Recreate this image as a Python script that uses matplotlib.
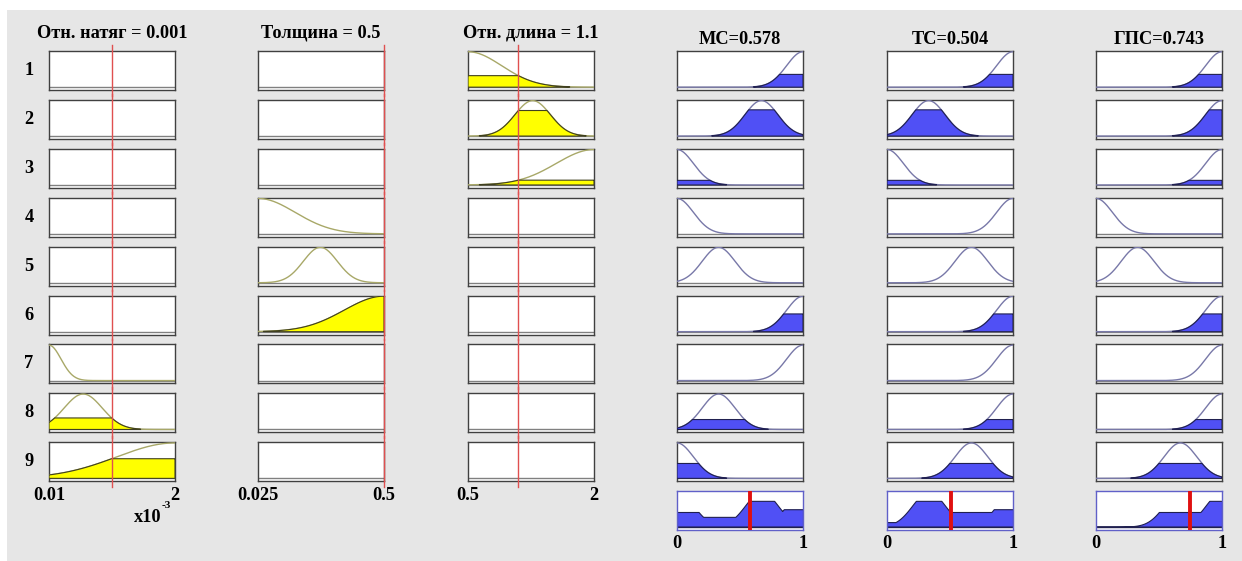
import numpy as np
import matplotlib
matplotlib.use('Agg')
from matplotlib import pyplot as plt
from matplotlib.patches import Rectangle

# input variables
in_titles = ['Отн. натяг = 0.001', 'Толщина = 0.5', 'Отн. длина = 1.1']
in_ranges = [(0.01, 2.0), (0.025, 0.5), (0.5, 2.0)]
in_values = [1.0, 0.5, 1.1]          # first one in x10^-3
in_ticks = [('0.01', '2'), ('0.025', '0.5'), ('0.5', '2')]

# gaussian MFs (center, sigma) used by each of the 9 rules, None = not used
in1_mf = [None, None, None, None, None, None, (0.01, 0.19), (0.55, 0.30), (2.0, 0.92)]
in2_mf = [None, None, None, (0.025, 0.14), (0.26, 0.064), (0.5, 0.15), None, None, None]
in3_mf = [(0.5, 0.40), (1.27, 0.21), (2.0, 0.45), None, None, None, None, None, None]
in_mfs = [in1_mf, in2_mf, in3_mf]

# output variables
out_titles = ['МС=0.578', 'ТС=0.504', 'ГПС=0.743']
out_values = [0.578, 0.504, 0.743]
out_centers = [0.0, 0.33, 0.67, 1.0]
out_sigma = 0.13
out_mf_idx = [[3, 2, 0, 0, 1, 3, 3, 1, 0],
              [3, 1, 0, 3, 2, 3, 3, 3, 2],
              [3, 3, 3, 0, 1, 3, 3, 3, 2]]
rule_strength = [0.36, 0.74, 0.13, 0.0, 0.0, 0.5, 0.0, 0.28, 0.42]

nrules = 9
W, H = 1242, 561
col_left = [49, 258, 468, 677, 887, 1096]
box_w, box_h = 126, 39
row_top0, row_step = 51, 48.9

font = dict(family='Liberation Serif', weight='bold', size=13.2)

def gauss(x, c, s):
    return np.exp(-(x - c)**2 / (2*s**2))

fig = plt.figure(figsize=(W/100, H/100), dpi=100)
fig.patch.set_facecolor('white')
fig.patches.append(Rectangle((7/W, 0), 1-7/W, 1-10/H, transform=fig.transFigure,
                             facecolor='#e6e6e6', edgecolor='none', zorder=-10))

def make_ax(x, y, spine='#404040'):
    ax = fig.add_axes([x/W, 1-(y+box_h)/H, box_w/W, box_h/H])
    ax.set_xticks([]); ax.set_yticks([])
    for sp in ax.spines.values():
        sp.set_color(spine)
        sp.set_linewidth(1.0)
    ax.set_ylim(-0.08, 1.02)
    return ax

def fig_text(x, y, s, **kw):
    fig.text(x/W, 1-y/H, s, ha='center', va='center', **font, **kw)

# rule numbers
for r in range(nrules):
    fig_text(29, row_top0 + r*row_step + box_h/2, str(r+1))

### INPUT COLUMNS ###
for k in range(3):
    lo, hi = in_ranges[k]
    xx = np.linspace(lo, hi, 400)
    for r in range(nrules):
        ax = make_ax(col_left[k], row_top0 + r*row_step)
        ax.set_xlim(lo, hi)
        ax.axhline(0, color='#808080', lw=1)
        mf = in_mfs[k][r]
        if mf is not None:
            yy = gauss(xx, *mf)
            ax.plot(xx, yy, color='#a8a868', lw=1, zorder=3)
            deg = gauss(in_values[k], *mf)
            if deg > 0.01:
                m = yy > 0.01
                yf = np.minimum(yy, deg)[m]
                px = np.concatenate([[xx[m][0]], xx[m], [xx[m][-1]]])
                py = np.concatenate([[0], yf, [0]])
                ax.fill(px, py, facecolor='#ffff00', edgecolor='#404020', lw=0.8, zorder=4)
        ax.axvline(in_values[k], ymin=-0.15, ymax=1.15, color='#e05050', lw=1,
                   clip_on=False, zorder=5)
    ty = 496
    fig_text(col_left[k], ty, in_ticks[k][0])
    fig_text(col_left[k] + box_w, ty, in_ticks[k][1])
    fig_text(112 + (col_left[k]-49), 33, in_titles[k])

fig_text(148, 517, 'x10')
fig.text(166/W, 1-506/H, '-3', ha='center', va='center', family='Liberation Serif',
         weight='bold', size=8)

### OUTPUT COLUMNS ###
xo = np.linspace(0, 1, 400)
for k in range(3):
    cl = col_left[3+k]
    agg = np.zeros_like(xo)
    for r in range(nrules):
        ax = make_ax(cl, row_top0 + r*row_step)
        ax.set_xlim(0, 1)
        ax.axhline(0, color='#808080', lw=1)
        yy = gauss(xo, out_centers[out_mf_idx[k][r]], out_sigma)
        ax.plot(xo, yy, color='#7878a8', lw=1, zorder=3)
        st = rule_strength[r]
        if st > 0:
            m = yy > 0.01
            yf = np.minimum(yy, st)
            agg = np.maximum(agg, yf)
            px = np.concatenate([[xo[m][0]], xo[m], [xo[m][-1]]])
            py = np.concatenate([[0], yf[m], [0]])
            ax.fill(px, py, facecolor='#5050f5', edgecolor='#202050', lw=0.8, zorder=4)
    # aggregated output
    ax = make_ax(cl, row_top0 + nrules*row_step, spine='#6060c8')
    ax.set_xlim(0, 1)
    ax.set_ylim(-0.1, 1.02)
    ax.axhline(0, color='#202050', lw=1)
    ax.fill_between(xo, 0, agg, facecolor='#5050f5', edgecolor='#202050', lw=0.8)
    ax.axvline(out_values[k], ymin=0.04, ymax=0.97, color='#e01010', lw=2.8, zorder=5)
    fig_text(cl, 544, '0')
    fig_text(cl + box_w, 544, '1')
    fig_text(cl + box_w/2, 39, out_titles[k])

plt.savefig('out.png', dpi=100)
